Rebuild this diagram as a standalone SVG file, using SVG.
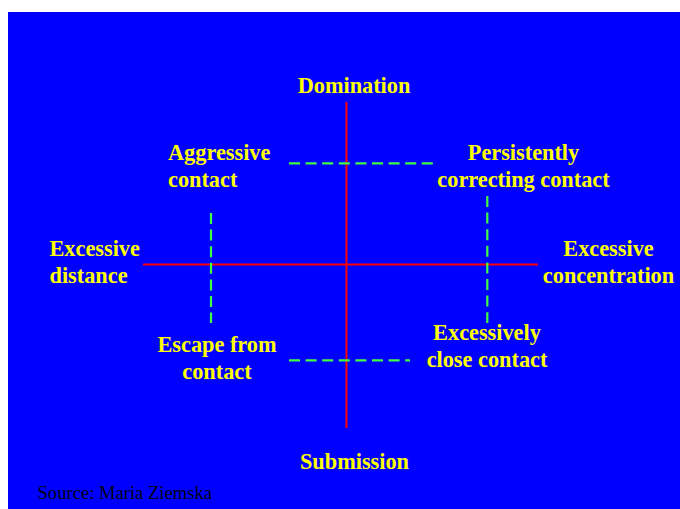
<svg xmlns="http://www.w3.org/2000/svg" width="680" height="509" viewBox="0 0 680 509">
<style>
.lbl{font-family:"Liberation Serif","Times New Roman",serif;font-weight:bold;font-size:22.3px;fill:#ffff00}
.c{text-anchor:middle}
.axis{stroke:#ff0000;stroke-width:2;fill:none}
.dash{stroke:#40ff40;stroke-width:2.2;stroke-dasharray:11 5.6;fill:none}
.src{font-family:"Liberation Serif","Times New Roman",serif;font-size:18.6px;fill:#000010}
</style>
<rect x="8" y="12" width="672" height="497" fill="#0000ff"/>
<g id="connectors">
<line class="axis" x1="346.5" y1="102" x2="346.5" y2="428"/>
<line class="axis" x1="143" y1="264.5" x2="538" y2="264.5"/>
<line class="dash" x1="289" y1="163.3" x2="433" y2="163.3"/>
<line class="dash" x1="289" y1="360.3" x2="410" y2="360.3"/>
<line class="dash" x1="211" y1="213" x2="211" y2="323"/>
<line class="dash" x1="487.3" y1="196" x2="487.3" y2="323"/>
</g>
<g id="domination"><text class="lbl c" x="354" y="93">Domination</text></g>
<g id="submission"><text class="lbl c" x="354.5" y="469">Submission</text></g>
<g id="aggressive"><text class="lbl" x="168" y="160">Aggressive</text><text class="lbl" x="168" y="187">contact</text></g>
<g id="persistently"><text class="lbl c" x="523.5" y="160">Persistently</text><text class="lbl c" x="523.5" y="187">correcting contact</text></g>
<g id="distance"><text class="lbl" x="49.5" y="256">Excessive</text><text class="lbl" x="49.5" y="283">distance</text></g>
<g id="concentration"><text class="lbl c" x="608.5" y="256">Excessive</text><text class="lbl c" x="608.5" y="283">concentration</text></g>
<g id="escape"><text class="lbl c" x="217" y="352">Escape from</text><text class="lbl c" x="217" y="379">contact</text></g>
<g id="close"><text class="lbl c" x="487" y="340">Excessively</text><text class="lbl c" x="487" y="367">close contact</text></g>
<text class="src" x="37.5" y="499">Source: Maria Ziemska</text>
</svg>
